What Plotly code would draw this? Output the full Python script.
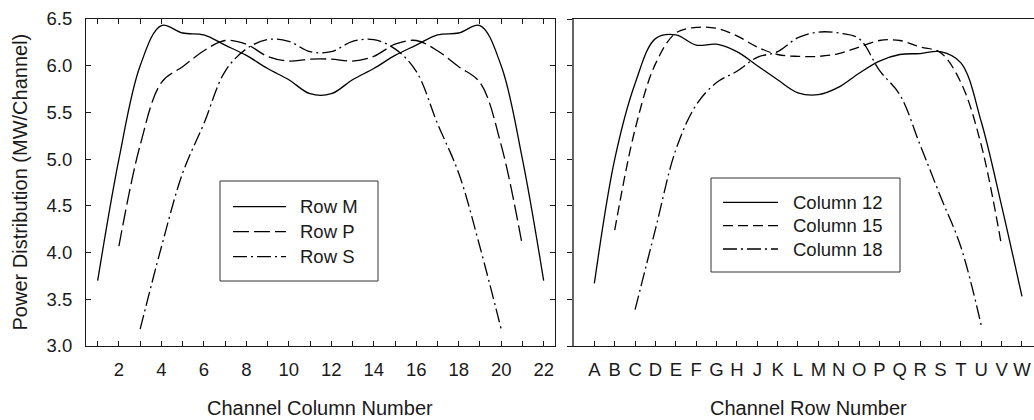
import plotly.graph_objects as go

# ---------------- data ----------------
col_numbers = list(range(1, 23))
row_m = [3.70, 5.00, 6.00, 6.43, 6.35, 6.33, 6.22, 6.11, 5.97, 5.85, 5.70,
         5.70, 5.85, 5.97, 6.11, 6.22, 6.33, 6.35, 6.43, 6.00, 5.00, 3.70]
row_p_cols = list(range(2, 22))
row_p = [4.07, 5.15, 5.82, 5.99, 6.16, 6.27, 6.23, 6.10, 6.05, 6.07,
         6.07, 6.05, 6.10, 6.23, 6.27, 6.16, 5.99, 5.82, 5.15, 4.07]
row_s_cols = list(range(3, 21))
row_s = [3.18, 4.06, 4.85, 5.38, 5.94, 6.18, 6.28, 6.26, 6.15,
         6.15, 6.26, 6.28, 6.18, 5.94, 5.38, 4.85, 4.06, 3.18]

row_letters = ["A", "B", "C", "D", "E", "F", "G", "H", "J", "K", "L",
               "M", "N", "O", "P", "Q", "R", "S", "T", "U", "V", "W"]
row_idx = list(range(1, 23))
col_12 = [3.67, 5.00, 5.81, 6.29, 6.33, 6.22, 6.23, 6.15, 6.00, 5.85, 5.71,
          5.69, 5.77, 5.92, 6.05, 6.12, 6.13, 6.15, 6.03, 5.40, 4.50, 3.53]
col_15_idx = list(range(2, 22))
col_15 = [4.24, 5.32, 6.02, 6.35, 6.41, 6.40, 6.32, 6.20, 6.12, 6.10,
          6.10, 6.13, 6.20, 6.27, 6.27, 6.20, 6.14, 5.82, 5.15, 4.07]
col_18_idx = list(range(3, 21))
col_18 = [3.39, 4.25, 5.10, 5.58, 5.82, 5.94, 6.09, 6.15, 6.30,
          6.36, 6.35, 6.29, 5.95, 5.69, 5.15, 4.60, 4.06, 3.22]

left_tick_text = [str(c) if c % 2 == 0 else "" for c in col_numbers]
y_ticks = [3.0, 3.5, 4.0, 4.5, 5.0, 5.5, 6.0, 6.5]

# ---------------- layout geometry (pixels) ----------------
W, H = 1034, 420
M_TOP, M_BOT = 19, 74
PLOT_H = H - M_TOP - M_BOT
FONT = "Liberation Sans, Arial, sans-serif"
INK = "#1a1a1a"


def px_x(p):
    return p / W


def px_y(p):
    return (H - M_BOT - p) / PLOT_H


fig = go.Figure()

LW = 1.3
DASH_L = "16px,5px"
DASH_R = "10px,5px"
DASHDOT = "14px,4px,2px,4px"

fig.add_trace(go.Scatter(x=col_numbers, y=row_m, mode="lines", name="Row M",
                         line=dict(color="black", width=LW, shape="spline"),
                         xaxis="x", yaxis="y", showlegend=False))
fig.add_trace(go.Scatter(x=row_p_cols, y=row_p, mode="lines", name="Row P",
                         line=dict(color="black", width=LW, shape="spline", dash=DASH_L),
                         xaxis="x", yaxis="y", showlegend=False))
fig.add_trace(go.Scatter(x=row_s_cols, y=row_s, mode="lines", name="Row S",
                         line=dict(color="black", width=LW, shape="spline", dash=DASHDOT),
                         xaxis="x", yaxis="y", showlegend=False))

fig.add_trace(go.Scatter(x=row_idx, y=col_12, mode="lines", name="Column 12",
                         line=dict(color="black", width=LW, shape="spline"),
                         xaxis="x2", yaxis="y2", showlegend=False))
fig.add_trace(go.Scatter(x=col_15_idx, y=col_15, mode="lines", name="Column 15",
                         line=dict(color="black", width=LW, shape="spline", dash=DASH_R),
                         xaxis="x2", yaxis="y2", showlegend=False))
fig.add_trace(go.Scatter(x=col_18_idx, y=col_18, mode="lines", name="Column 18",
                         line=dict(color="black", width=LW, shape="spline", dash=DASHDOT),
                         xaxis="x2", yaxis="y2", showlegend=False))

tickfont = dict(family=FONT, size=18.5, color=INK)

fig.update_layout(
    width=W, height=H,
    margin=dict(l=0, r=0, t=M_TOP, b=M_BOT, pad=0),
    paper_bgcolor="white", plot_bgcolor="white",
    xaxis=dict(domain=[px_x(86), px_x(554.5)], range=[0.45, 22.51],
               tickmode="array", tickvals=col_numbers, ticktext=left_tick_text,
               ticks="inside", ticklen=5, tickcolor=INK, tickwidth=1,
               showline=True, linecolor=INK, linewidth=1, mirror="ticks",
               showgrid=False, zeroline=False, tickfont=tickfont,
               ticklabelstandoff=7),
    yaxis=dict(domain=[0, 1], range=[3.0, 6.5],
               tickmode="array", tickvals=y_ticks,
               ticktext=[f"{v:.1f}" for v in y_ticks],
               ticks="inside", ticklen=5, tickcolor=INK, tickwidth=1,
               showline=True, linecolor=INK, linewidth=1, mirror="ticks",
               showgrid=False, zeroline=False, tickfont=tickfont,
               ticklabelstandoff=9),
    xaxis2=dict(domain=[px_x(574), 1.0], range=[0, 22.59], anchor="y2",
                tickmode="array", tickvals=row_idx, ticktext=row_letters,
                ticks="inside", ticklen=5, tickcolor=INK, tickwidth=1,
                showline=True, linecolor=INK, linewidth=1, mirror=True,
                showgrid=False, zeroline=False, tickfont=tickfont,
                ticklabelstandoff=7),
    yaxis2=dict(domain=[0, 1], range=[3.0, 6.5], anchor="x2",
                tickmode="array", tickvals=y_ticks, showticklabels=False,
                ticks="outside", ticklen=5, tickcolor=INK, tickwidth=1,
                showline=True, linecolor="#666666", linewidth=1.5, mirror=False,
                showgrid=False, zeroline=False),
    showlegend=False,
)

# ---------------- axis titles ----------------
title_font = dict(family=FONT, size=20, color=INK)
fig.add_annotation(text="Channel Column Number", xref="paper", yref="paper",
                   x=px_x(320), y=px_y(408), xanchor="center", yanchor="middle",
                   showarrow=False, font=title_font)
fig.add_annotation(text="Channel Row Number", xref="paper", yref="paper",
                   x=px_x(808), y=px_y(408), xanchor="center", yanchor="middle",
                   showarrow=False, font=title_font)
fig.add_annotation(text="Power Distribution (MW/Channel)", xref="paper", yref="paper",
                   x=px_x(19), y=px_y(182.5), xanchor="center", yanchor="middle",
                   textangle=-90, showarrow=False, font=title_font)

# ---------------- legends (drawn boxes) ----------------
leg_font = dict(family=FONT, size=18.5, color=INK)


def draw_legend(box, line_x, text_x, rows, labels, dashes):
    x0, y0, x1, y1 = box
    fig.add_shape(type="rect", xref="paper", yref="paper",
                  x0=px_x(x0), x1=px_x(x1), y0=px_y(y1), y1=px_y(y0),
                  line=dict(color="#333333", width=1), fillcolor="white",
                  layer="above")
    for ry, lab, dsh in zip(rows, labels, dashes):
        fig.add_shape(type="line", xref="paper", yref="paper",
                      x0=px_x(line_x[0]), x1=px_x(line_x[1]),
                      y0=px_y(ry), y1=px_y(ry),
                      line=dict(color="black", width=LW, dash=dsh), layer="above")
        fig.add_annotation(text=lab, xref="paper", yref="paper",
                           x=px_x(text_x), y=px_y(ry), xanchor="left",
                           yanchor="middle", showarrow=False, font=leg_font)


draw_legend((220, 181, 378, 281), (233, 286), 298, [206.7, 231.7, 256.7],
            ["Row M", "Row P", "Row S"], ["solid", DASH_L, DASHDOT])
draw_legend((711, 178, 900, 272), (723, 778), 791, [202.3, 225.7, 249],
            ["Column 12", "Column 15", "Column 18"], ["solid", DASH_R, DASHDOT])

fig.write_html("out.html")
